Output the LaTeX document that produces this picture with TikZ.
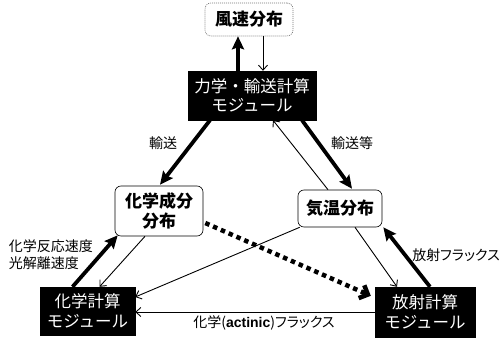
\documentclass[tikz,border=0pt]{standalone}
\usepackage{fontspec}
\setmainfont{Noto Sans CJK JP}
\newfontfamily\lblfont[RawFeature=+palt]{Noto Sans CJK JP}
\newfontfamily\lat{Liberation Sans}
\usetikzlibrary{arrows.meta,calc}
\tikzset{
  modbox/.style={fill=black,draw=black,text=white,align=center,inner sep=0pt,
    font=\fontsize{16.5}{19.5}\selectfont},
  distbox/.style={draw=black,line width=0.6pt,fill=white,rounded corners=6pt,align=center,inner sep=0pt,
    font=\fontsize{17}{20}\selectfont\bfseries},
  windbox/.style={draw=black!55,line width=0.6pt,dash pattern=on 1pt off 1pt,rounded corners=6pt,align=center,inner sep=0pt,
    font=\fontsize{17}{20}\selectfont\bfseries},
  thickarr/.style={line width=3.8pt,-{Stealth[length=13pt,width=12pt,inset=2pt]}},
  thinarr/.style={line width=0.9pt,-{Straight Barb[length=5pt,width=9pt]}},
  dotarr/.style={line width=4.5pt,dash pattern=on 4.5pt off 4pt,-{Straight Barb[length=7pt,width=14pt]}},
  lbl/.style={inner sep=0pt,align=left,font=\fontsize{14}{17}\selectfont\lblfont},
}
\begin{document}
\begin{tikzpicture}[x=1pt,y=-1pt]
\useasboundingbox (0,0) rectangle (501,340);
% nodes
\node[windbox,minimum width=88pt,minimum height=33pt] (wind) at (249,19.5) {風速分布};
\node[modbox,minimum width=128pt,minimum height=49pt] (dyn) at (252,95.5) {力学・輸送計算\\モジュール};
\node[distbox,minimum width=88pt,minimum height=50pt] (chem) at (159,211) {化学成分\\分布};
\node[distbox,minimum width=84pt,minimum height=37pt] (temp) at (340,208.5) {気温分布};
\node[modbox,minimum width=95pt,minimum height=48pt] (cmod) at (87.5,311) {化学計算\\モジュール};
\node[modbox,minimum width=100pt,minimum height=50pt] (rmod) at (425,312) {放射計算\\モジュール};
% connectors
\draw[thickarr] ($(dyn.north)+(-14,0)$) -- ($(wind.south)+(-11,0)$);
\draw[thinarr] ($(wind.south)+(14,0)$) -- ($(dyn.north)+(11,0)$);
\draw[thickarr] ($(dyn.south)+(-42,0)$) -- ($(chem.north)+(1,-1)$);
\draw[thickarr] ($(dyn.south)+(50,0)$) -- ($(temp.north)+(12,-1)$);
\draw[thinarr] ($(temp.north)+(-12,0)$) -- ($(dyn.south)+(21,0)$);
\draw[dotarr] ($(chem.east)+(2,12)$) -- ($(rmod.north west)+(-4,9)$);
\draw[thinarr] ($(chem.south)+(-14,0)$) -- ($(cmod.north)+(12,0)$);
\draw[thickarr] ($(cmod.north)+(-15,0)$) -- ($(chem.south west)+(3,-1)$);
\draw[thinarr] ($(temp.south west)+(2,0)$) -- ($(cmod.east)+(0,-14)$);
\draw[thinarr] ($(temp.south)+(15,0)$) -- ($(rmod.north)+(-28,0)$);
\draw[thickarr] ($(rmod.north)+(5,0)$) -- ($(temp.south east)+(1,0)$);
\draw[thinarr] (rmod.west) -- (rmod.west -| cmod.east);
% labels
\node[lbl] (l1) at (163,143) {輸送};
\node[lbl] (l2) at (352,143) {輸送等};
\node[lbl] (l3) at (51,255) {化学反応速度\\光解離速度};
\node[lbl,anchor=east] (l4) at (500,255) {放射フラックス};
\node[lbl] (l5) at (264,323) {化学({\lat\bfseries actinic})フラックス};
\end{tikzpicture}
\end{document}
